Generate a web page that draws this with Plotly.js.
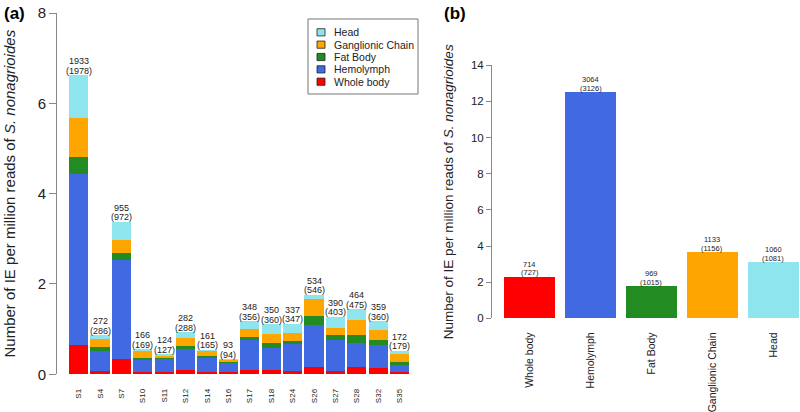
<!DOCTYPE html>
<html>
<head>
<meta charset="utf-8">
<script src="https://cdn.plot.ly/plotly-3.0.1.min.js"></script>
<style>html,body{margin:0;padding:0;background:#fff;}#chart{width:800px;height:412px;}</style>
</head>
<body>
<div id="chart"></div>
<script>
// ---- Panel (a) data ----
const samples = ['S1','S4','S7','S10','S11','S12','S14','S16','S17','S18','S24','S26','S27','S28','S32','S35'];
const wholeBody  = [0.65,0.08,0.33,0.04,0.04,0.10,0.06,0.04,0.10,0.10,0.08,0.16,0.08,0.16,0.14,0.04];
const hemolymph  = [3.79,0.44,2.21,0.27,0.30,0.45,0.30,0.21,0.67,0.48,0.59,0.94,0.68,0.53,0.51,0.17];
const fatBody    = [0.38,0.08,0.14,0.06,0.03,0.07,0.05,0.02,0.06,0.11,0.07,0.20,0.11,0.17,0.11,0.06];
const ganglionic = [0.86,0.18,0.30,0.15,0.04,0.19,0.10,0.04,0.18,0.21,0.18,0.37,0.16,0.34,0.22,0.17];
const head       = [0.94,0.09,0.40,0.03,0.03,0.12,0.03,0.02,0.17,0.21,0.20,0.09,0.24,0.24,0.19,0.08];
const sampleCount    = [1933,272,955,166,124,282,161,93,348,350,337,534,390,464,359,172];
const sampleCountAll = [1978,286,972,169,127,288,165,94,356,360,347,546,403,475,360,179];

// ---- Panel (b) data ----
const tissues = ['Whole body','Hemolymph','Fat Body','Ganglionic Chain','Head'];
const tissueValues = [2.29,12.51,1.77,3.65,3.10];
const tissueCount    = [714,3064,969,1133,1060];
const tissueCountAll = [727,3126,1015,1156,1081];

const COLORS = {
  'Whole body': '#FF0000',
  'Hemolymph': '#4169E1',
  'Fat Body': '#228B22',
  'Ganglionic Chain': '#FFA500',
  'Head': '#8EE5EE'
};
const FONT = 'Liberation Sans, Arial, Helvetica, sans-serif';

const seriesA = [
  ['Whole body', wholeBody],
  ['Hemolymph', hemolymph],
  ['Fat Body', fatBody],
  ['Ganglionic Chain', ganglionic],
  ['Head', head]
];

const traces = seriesA.map(([name, vals]) => ({
  type: 'bar', name: name, x: samples, y: vals,
  xaxis: 'x', yaxis: 'y', width: 0.89,
  marker: {color: COLORS[name], line: {width: 0}},
  showlegend: false
}));

traces.push({
  type: 'bar', name: 'Total', x: tissues, y: tissueValues, xaxis: 'x2', yaxis: 'y2',
  width: 0.837, showlegend: false,
  marker: {color: tissues.map(t => COLORS[t]), line: {width: 0}}
});

const totals = samples.map((s, i) => seriesA.reduce((acc, [, v]) => acc + v[i], 0));

const annotations = [];
const shapes = [];
samples.forEach((s, i) => {
  annotations.push({xref: 'x', yref: 'y', x: s, y: totals[i], text: '(' + sampleCountAll[i] + ')',
    showarrow: false, yanchor: 'bottom', yshift: -1.5, borderpad: 0, font: {family: FONT, size: 9, color: '#222'}});
  annotations.push({xref: 'x', yref: 'y', x: s, y: totals[i], text: String(sampleCount[i]),
    showarrow: false, yanchor: 'bottom', yshift: 8, borderpad: 0, font: {family: FONT, size: 9, color: '#222'}});
});
tissues.forEach((t, i) => {
  annotations.push({xref: 'x2', yref: 'y2', x: t, y: tissueValues[i], text: '(' + tissueCountAll[i] + ')',
    showarrow: false, yanchor: 'bottom', yshift: -1.5, borderpad: 0, font: {family: FONT, size: 7.5, color: '#222'}});
  annotations.push({xref: 'x2', yref: 'y2', x: t, y: tissueValues[i], text: String(tissueCount[i]),
    showarrow: false, yanchor: 'bottom', yshift: 7, borderpad: 0, font: {family: FONT, size: 7.5, color: '#222'}});
});
annotations.push({xref: 'paper', yref: 'paper', x: 2/800, y: 1 - 2/412, xanchor: 'left', yanchor: 'top',
  text: '<b>(a)</b>', showarrow: false, font: {family: FONT, size: 17, color: '#000'}});
annotations.push({xref: 'paper', yref: 'paper', x: 442/800, y: 1 - 2/412, xanchor: 'left', yanchor: 'top',
  text: '<b>(b)</b>', showarrow: false, font: {family: FONT, size: 17, color: '#000'}});

// ---- legend box (panel a), entries listed top-down ----
const legendNames = seriesA.map(s => s[0]).reverse();
const px = v => v / 800, py = v => 1 - v / 412;
shapes.push({type: 'rect', xref: 'paper', yref: 'paper', x0: px(308), x1: px(418), y0: py(19), y1: py(94),
  line: {color: '#777', width: 1}, fillcolor: 'rgba(0,0,0,0)'});
legendNames.forEach((name, k) => {
  const cy = 32.3 + k * 12.35;
  shapes.push({type: 'rect', xref: 'paper', yref: 'paper', x0: px(317), x1: px(325), y0: py(cy - 3.6), y1: py(cy + 3.6),
    line: {color: '#222', width: 0.8}, fillcolor: COLORS[name]});
  annotations.push({xref: 'paper', yref: 'paper', x: px(333), y: py(cy), xanchor: 'left', yanchor: 'middle',
    text: name, showarrow: false, borderpad: 0, font: {family: FONT, size: 10.5, color: '#222'}});
});

const yTitle = 'Number of IE per million reads of <i>S. nonagrioides</i>';

const layout = {
  width: 800, height: 412,
  margin: {l: 0, r: 0, t: 0, b: 0},
  paper_bgcolor: '#fff', plot_bgcolor: '#fff',
  barmode: 'stack',
  font: {family: FONT, color: '#000'},
  showlegend: false,
  xaxis: {
    domain: [57/800, 410.3/800], anchor: 'y', type: 'category',
    range: [-1.01, 15.5], showline: false, showgrid: false, zeroline: false,
    ticks: '', tickangle: -90, ticklabelstandoff: 12,
    tickfont: {family: FONT, size: 8, color: '#222'}
  },
  yaxis: {
    domain: [1 - 374.3/412, 1 - 13/412], anchor: 'x',
    range: [0, 8], tickvals: [0, 2, 4, 6, 8],
    showline: true, linecolor: '#888', linewidth: 1,
    ticks: 'outside', ticklen: 7, tickcolor: '#888',
    showgrid: false, zeroline: false,
    tickfont: {family: FONT, size: 15, color: '#222'},
    title: {text: yTitle, font: {family: FONT, size: 15, color: '#222'}, standoff: 18}
  },
  xaxis2: {
    domain: [492/800, 1], anchor: 'y2', type: 'category',
    range: [-0.62, 4.44], showline: false, showgrid: false, zeroline: false,
    ticks: '', tickangle: -90, ticklabelstandoff: 11,
    tickfont: {family: FONT, size: 10.5, color: '#222'}
  },
  yaxis2: {
    domain: [1 - 318.3/412, 1 - 65.3/412], anchor: 'x2',
    range: [0, 14], tickvals: [0, 2, 4, 6, 8, 10, 12, 14],
    showline: true, linecolor: '#888', linewidth: 1,
    ticks: 'outside', ticklen: 5, tickcolor: '#888',
    showgrid: false, zeroline: false,
    tickfont: {family: FONT, size: 11.5, color: '#222'},
    title: {text: yTitle, font: {family: FONT, size: 13.5, color: '#222'}, standoff: 14}
  },
  shapes: shapes,
  annotations: annotations
};

Plotly.newPlot('chart', traces, layout, {displayModeBar: false, staticPlot: true});
</script>
</body>
</html>
